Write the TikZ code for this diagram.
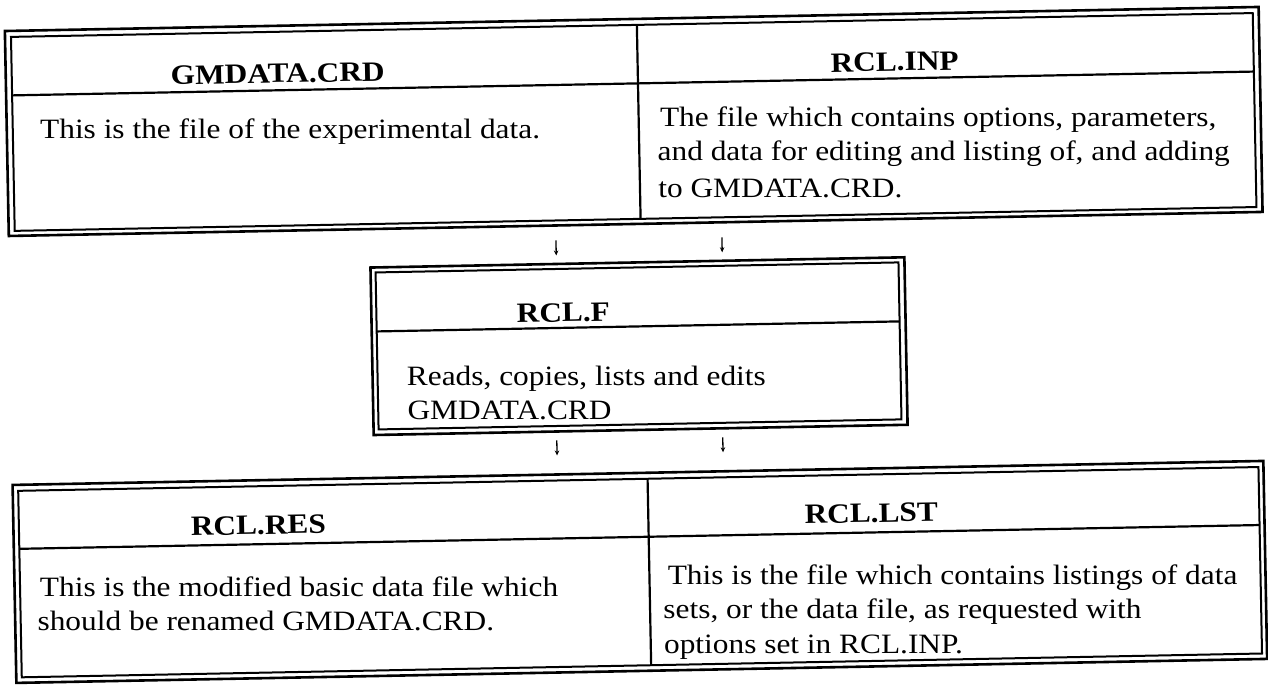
\documentclass[tikz,border=0pt]{standalone}
\usepackage{fontspec}
\setmainfont{Liberation Serif}[FakeStretch=1.12]
\usetikzlibrary{calc,arrows.meta}
\tikzset{
  outerln/.style={line width=2.6pt},
  innerln/.style={line width=2pt},
  sepln/.style={line width=2.2pt},
  head/.style={font=\fontsize{28}{32}\selectfont\bfseries, inner sep=0pt, anchor=base},
  body/.style={font=\fontsize{28}{33}\selectfont, inner sep=0pt},
  flow/.style={line width=1.3pt, -{Stealth[length=5pt,width=4.5pt]}}
}
% one text line: placed on the skewed frame, set level about its centre
\newcommand{\tline}[4]{%
  \node[body, anchor=base west] (#1p) at (#2,#3) {\phantom{#4}};
  \node[body, anchor=base, rotate=-1.1] (#1) at (#1p.base) {#4};
}
\begin{document}
\begin{tikzpicture}[x=1pt,y=-1pt]
\useasboundingbox (0,0) rectangle (1268,690);
\begin{scope}[rotate around={1.1:(634,345)}, transform shape]
% ---------- top table ----------
\draw[outerln] (11,19) rectangle (1265,224);
\draw[innerln] (17,25) rectangle (1259,219);
\draw[sepln] (17,83.5) -- (1259,83.5);
\draw[sepln] (643,25) -- (643,219);
\node[head] (gmh) at (283,76) {GMDATA.CRD};
\tline{gmb}{44}{132}{This is the file of the experimental data.}
\node[head] (inph) at (900,76) {RCL.INP};
\tline{inp1}{664}{132}{The file which contains options, parameters,}
\tline{inp2}{661}{166}{and data for editing and listing of, and adding}
\tline{inp3}{661}{200}{to GMDATA.CRD.}
% ---------- middle box ----------
\draw[outerln] (372,262.5) rectangle (906,430);
\draw[innerln] (377,267.5) rectangle (900,424.5);
\draw[sepln] (377,326.5) -- (900,326.5);
\node[head] (fh) at (564,320.5) {RCL.F};
\tline{f1}{406}{385}{Reads, copies, lists and edits}
\tline{f2}{406}{417}{GMDATA.CRD}
% ---------- bottom table ----------
\draw[outerln] (10,473) rectangle (1261,671);
\draw[innerln] (15.5,479) rectangle (1256,665.5);
\draw[sepln] (15.5,537) -- (1256,537);
\draw[sepln] (645,479) -- (645,665.5);
\node[head] (resh) at (255,527) {RCL.RES};
\tline{res1}{35}{590}{This is the modified basic data file which}
\tline{res2}{32}{623}{should be renamed GMDATA.CRD.}
\node[head] (lsth) at (868,527) {RCL.LST};
\tline{lst1}{663}{591}{This is the file which contains listings of data}
\tline{lst2}{658}{624}{sets, or the data file, as requested with}
\tline{lst3}{658}{657}{options set in RCL.INP.}
% ---------- arrows ----------
\coordinate (a1s) at (558,239);
\coordinate (a1e) at (558,254);
\coordinate (a2s) at (724,239);
\coordinate (a2e) at (724,254);
\coordinate (b1s) at (555,439);
\coordinate (b1e) at (555,454);
\coordinate (b2s) at (721,439);
\coordinate (b2e) at (721,454);
\draw[flow] (a1s) -- (a1e);
\draw[flow] (a2s) -- (a2e);
\draw[flow] (b1s) -- (b1e);
\draw[flow] (b2s) -- (b2e);
\end{scope}
\end{tikzpicture}
\end{document}
